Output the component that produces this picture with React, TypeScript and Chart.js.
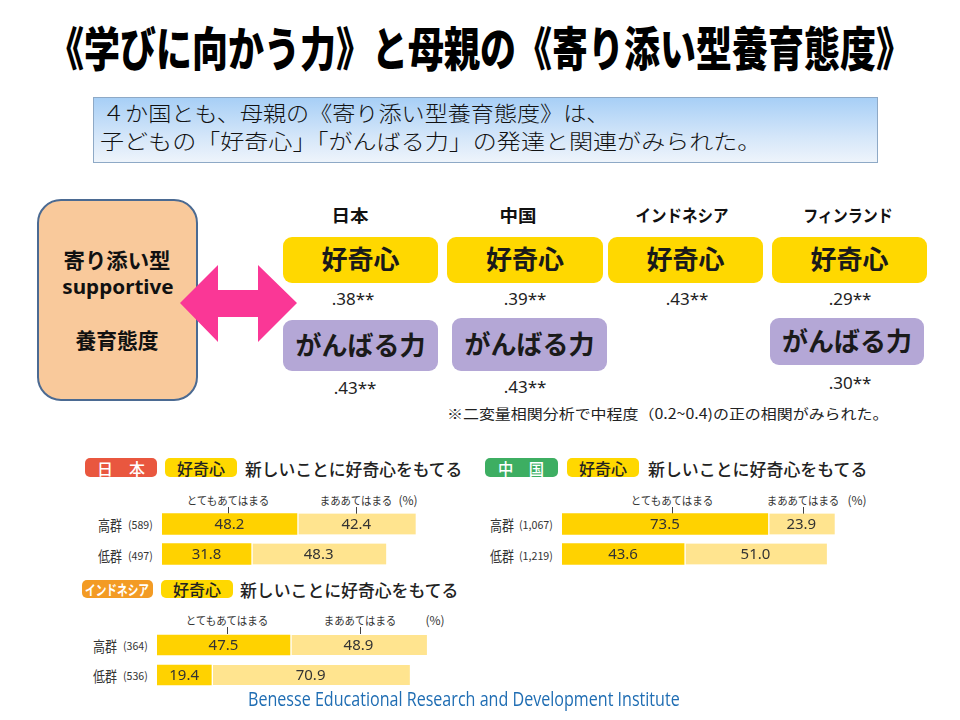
import React, { useEffect, useLayoutEffect, useRef } from "react";
import { Chart, registerables } from "chart.js";

Chart.register(...registerables);

// ---------- data ----------
const titleText = "《学びに向かう力》と母親の《寄り添い型養育態度》";
const summaryLines = [
  "４か国とも、母親の《寄り添い型養育態度》は、",
  "子どもの「好奇心」「がんばる力」の発達と関連がみられた。",
];
const countries = ["日本", "中国", "インドネシア", "フィンランド"];
const curiosityR = [".38**", ".39**", ".43**", ".29**"];
const perseveranceR = [".43**", ".43**", "", ".30**"];
const noteText = "※二変量相関分析で中程度（0.2~0.4)の正の相関がみられた。";

const groupLabels = ["高群", "低群"];
const seriesLabels = ["とてもあてはまる", "まああてはまる"];
const panelTitle = "新しいことに好奇心をもてる";

const jpN = ["(589)", "(497)"];
const jpVery = [48.2, 31.8];
const jpSomewhat = [42.4, 48.3];

const cnN = ["(1,067)", "(1,219)"];
const cnVery = [73.5, 43.6];
const cnSomewhat = [23.9, 51.0];

const idN = ["(364)", "(536)"];
const idVery = [47.5, 19.4];
const idSomewhat = [48.9, 70.9];

const footerText = "Benesse Educational Research and Development Institute";

// ---------- styles ----------
const JP = '"Noto Sans CJK JP", "Noto Sans", sans-serif';
const YELLOW = "#ffd800";
const PURPLE = "#b4a7d6";
const BAR_DARK = "#ffd200";
const BAR_LIGHT = "#ffe48f";

type TProps = {
  x?: number;
  cx?: number;
  cy: number;
  w?: number;
  sy?: number;
  size: number;
  weight?: number;
  color?: string;
  family?: string;
  ls?: number;
  children: React.ReactNode;
};

function T({ x, cx, cy, w, sy = 1, size, weight = 400, color = "#111", family = JP, ls = 0, children }: TProps) {
  const ref = useRef<HTMLDivElement | null>(null);
  const centered = cx !== undefined;
  useLayoutEffect(() => {
    const el = ref.current;
    if (!el) return;
    const apply = () => {
      const nat = el.scrollWidth || 1;
      const sx = w ? w / nat : 1;
      el.style.transform = (centered ? "translate(-50%,-50%) " : "translate(0,-50%) ") + `scale(${sx},${sy})`;
    };
    apply();
    (document as any).fonts?.ready?.then(apply);
  }, []);
  return (
    <div
      ref={ref}
      style={{
        position: "absolute",
        left: centered ? cx : x,
        top: cy,
        whiteSpace: "nowrap",
        fontSize: size,
        fontWeight: weight,
        color,
        fontFamily: family,
        lineHeight: 1,
        letterSpacing: ls,
        transformOrigin: centered ? "center center" : "left center",
      }}
    >
      {children}
    </div>
  );
}

const valueLabels = {
  id: "valueLabels",
  afterDatasetsDraw(chart: any) {
    const ctx = chart.ctx;
    ctx.save();
    ctx.font = '15px "Noto Sans", sans-serif';
    ctx.fillStyle = "#333";
    ctx.textAlign = "center";
    ctx.textBaseline = "middle";
    chart.data.datasets.forEach((ds: any, i: number) => {
      const meta = chart.getDatasetMeta(i);
      meta.data.forEach((bar: any, j: number) => {
        const p = bar.getProps(["x", "y", "base"], true);
        ctx.fillText(Number(ds.data[j]).toFixed(1), (p.x + p.base) / 2, p.y + 1);
      });
    });
    ctx.restore();
  },
};

function Bars({ left, top, very, somewhat, thickness }: { left: number; top: number; very: number[]; somewhat: number[]; thickness: number }) {
  const ref = useRef<HTMLCanvasElement | null>(null);
  useEffect(() => {
    if (!ref.current) return;
    const chart = new Chart(ref.current, {
      type: "bar",
      data: {
        labels: groupLabels,
        datasets: [
          { label: seriesLabels[0], data: very, backgroundColor: BAR_DARK, borderWidth: 0, barThickness: thickness },
          {
            label: seriesLabels[1],
            data: somewhat,
            backgroundColor: BAR_LIGHT,
            borderColor: "#ffffff",
            borderWidth: { left: 2, right: 0, top: 0, bottom: 0 },
            borderSkipped: false,
            barThickness: thickness,
          },
        ],
      },
      options: {
        indexAxis: "y",
        responsive: false,
        maintainAspectRatio: false,
        animation: false,
        events: [],
        layout: { padding: 0 },
        plugins: { legend: { display: false }, tooltip: { enabled: false } },
        scales: {
          x: { stacked: true, min: 0, max: 100, display: false },
          y: { stacked: true, display: false },
        },
      } as any,
      plugins: [valueLabels],
    });
    return () => chart.destroy();
  }, []);
  return <canvas ref={ref} width={280} height={60} style={{ position: "absolute", left, top, width: 280, height: 60 }} />;
}

function Pill({ x, y, w, h, bg }: { x: number; y: number; w: number; h: number; bg: string }) {
  return (
    <div
      style={{
        position: "absolute",
        left: x,
        top: y,
        width: w,
        height: h,
        background: bg,
        borderRadius: 5,
      }}
    />
  );
}

function Box({ x, y, w, h, bg, text, tw }: { x: number; y: number; w: number; h: number; bg: string; text: string; tw: number }) {
  return (
    <>
      <div style={{ position: "absolute", left: x, top: y, width: w, height: h, background: bg, borderRadius: 9 }} />
      <T cx={x + w / 2} cy={y + h / 2 - 2} w={tw} size={26} weight={700} color="#1a1a1a">
        {text}
      </T>
    </>
  );
}

type PanelProps = {
  pillX: number; pillY: number; pillW: number; pillColor: string; pillText: React.ReactNode;
  yelX: number; titleX: number; titleW: number;
  hdrY: number; hdr1: number; hdr2: number; pct: number; tickTop: number;
  rowX: number; nX: number; nW: number; rowY: number[]; counts: string[];
  barX: number; barTop: number; very: number[]; somewhat: number[]; thickness: number;
};

function Panel(p: PanelProps) {
  const pillH = p.pillY === 580 ? 18 : 19;
  return (
    <>
      <Pill x={p.pillX} y={p.pillY} w={p.pillW} h={pillH} bg={p.pillColor} />
      {p.pillText}
      <Pill x={p.yelX} y={p.pillY} w={72} h={pillH} bg={YELLOW} />
      <T cx={p.yelX + 36} cy={p.pillY + pillH / 2} w={48} size={16} weight={500} color="#222">好奇心</T>
      <T x={p.titleX} cy={p.pillY + pillH / 2} w={p.titleW} size={17} weight={500} color="#222">{panelTitle}</T>

      <T cx={p.hdr1} cy={p.hdrY} w={83} size={11} color="#333">{seriesLabels[0]}</T>
      <T cx={p.hdr2} cy={p.hdrY} w={73} size={11} color="#333">{seriesLabels[1]}</T>
      <T cx={p.pct} cy={p.hdrY} w={19} size={12} color="#333">(%)</T>
      <div style={{ position: "absolute", left: p.hdr1, top: p.tickTop, width: 1, height: 7, background: "#444" }} />
      <div style={{ position: "absolute", left: p.hdr2, top: p.tickTop, width: 1, height: 7, background: "#444" }} />

      {groupLabels.map((g, i) => (
        <React.Fragment key={g}>
          <T x={p.rowX} cy={p.rowY[i]} w={24} size={15} color="#333">{g}</T>
          <T x={p.nX} cy={p.rowY[i]} w={p.nW} size={11} color="#333">{p.counts[i]}</T>
        </React.Fragment>
      ))}
      <Bars left={p.barX} top={p.barTop} very={p.very} somewhat={p.somewhat} thickness={p.thickness} />
    </>
  );
}

export default function App() {
  useEffect(() => {
    document.body.style.margin = "0";
  }, []);

  const yBoxes = [
    { x: 283, w: 155 },
    { x: 447, w: 156 },
    { x: 608, w: 155 },
    { x: 772, w: 155 },
  ];
  const countryCx = [350, 518, 682, 848];
  const countryW = [37, 37, 93, 90];
  const rCx = [353, 525, 687, 850];
  const pBoxes = [
    { x: 283, y: 320, w: 155, h: 51 },
    { x: 452, y: 318, w: 155, h: 53 },
    null,
    { x: 770, y: 318, w: 154, h: 47 },
  ];
  const pValY = [387, 386, 0, 382];

  return (
    <div style={{ position: "absolute", left: 0, top: 0, width: 960, height: 720, background: "#fff", overflow: "hidden" }}>
      {/* Title */}
      <T cx={480} cy={45} w={864} sy={1.3} size={36} weight={900} color="#000">{titleText}</T>

      {/* Summary box */}
      <div
        style={{
          position: "absolute",
          left: 93,
          top: 97,
          width: 783,
          height: 64,
          border: "1px solid #8ea9c6",
          background: "linear-gradient(to bottom, #a7cff6 0%, #d4e6f9 60%, #eef4fb 100%)",
        }}
      />
      <T x={102} cy={112} w={507} size={21} weight={300} color="#111">{summaryLines[0]}</T>
      <T x={100} cy={140} w={662} size={21} weight={300} color="#111">{summaryLines[1]}</T>

      {/* Left box */}
      <div
        style={{
          position: "absolute",
          left: 37,
          top: 199,
          width: 157,
          height: 198,
          background: "#f9c99b",
          border: "2px solid #4b6a92",
          borderRadius: 24,
        }}
      />
      <T cx={117} cy={259} w={107} size={21} weight={700} color="#111">寄り添い型</T>
      <T cx={118} cy={287} w={111} size={19} weight={700} color="#111" family='"Noto Sans", sans-serif'>supportive</T>
      <T cx={117} cy={339} w={83} size={21} weight={700} color="#111">養育態度</T>

      {/* Double arrow */}
      <svg width={960} height={720} style={{ position: "absolute", left: 0, top: 0 }}>
        <polygon
          points="180,303 218,265 218,290 258,290 258,265 297,303 258,342 258,317 218,317 218,342"
          fill="#fa3796"
        />
      </svg>

      {/* Countries */}
      {countries.map((c, i) => (
        <T key={c} cx={countryCx[i]} cy={214} w={countryW[i]} size={17} weight={700} color="#111">{c}</T>
      ))}
      {yBoxes.map((b, i) => (
        <React.Fragment key={"y" + i}>
          <Box x={b.x} y={237} w={b.w} h={46} bg={YELLOW} text="好奇心" tw={78} />
          <T cx={rCx[i]} cy={298} size={17} color="#222" family='"Noto Sans", sans-serif'>{curiosityR[i]}</T>
        </React.Fragment>
      ))}
      {pBoxes.map((b, i) =>
        b ? (
          <React.Fragment key={"p" + i}>
            <Box x={b.x} y={b.y} w={b.w} h={b.h} bg={PURPLE} text="がんばる力" tw={130} />
            <T cx={rCx[i] + (i === 0 ? 2 : 0)} cy={pValY[i]} size={17} color="#222" family='"Noto Sans", sans-serif'>{perseveranceR[i]}</T>
          </React.Fragment>
        ) : null
      )}
      <T x={447} cy={413} w={441} size={14} color="#222">{noteText}</T>

      {/* Japan panel */}
      <Panel
        pillX={85} pillY={458} pillW={72} pillColor="#e9573f"
        pillText={<T cx={121} cy={468} w={48} size={16} weight={500} color="#fff">日　本</T>}
        yelX={165} titleX={245} titleW={217}
        hdrY={500} hdr1={228} hdr2={356} pct={408} tickTop={507}
        rowX={98} nX={128} nW={25} rowY={[524, 555]} counts={jpN}
        barX={162} barTop={509} very={jpVery} somewhat={jpSomewhat} thickness={21}
      />

      {/* China panel */}
      <Panel
        pillX={485} pillY={458} pillW={73} pillColor="#3dae62"
        pillText={<T cx={521} cy={468} w={46} size={16} weight={500} color="#fff">中　国</T>}
        yelX={567} titleX={648} titleW={219}
        hdrY={500} hdr1={672} hdr2={803} pct={857} tickTop={507}
        rowX={490} nX={519} nW={34} rowY={[524, 555]} counts={cnN}
        barX={562} barTop={509} very={cnVery} somewhat={cnSomewhat} thickness={21}
      />

      {/* Indonesia panel */}
      <Panel
        pillX={82} pillY={580} pillW={71} pillColor="#f39b24"
        pillText={<T cx={117} cy={589} w={64} size={14} weight={700} color="#fff">インドネシア</T>}
        yelX={161} titleX={240} titleW={218}
        hdrY={620} hdr1={227} hdr2={360} pct={435} tickTop={627}
        rowX={93} nX={123} nW={25} rowY={[645, 675]} counts={idN}
        barX={157} barTop={630} very={idVery} somewhat={idSomewhat} thickness={20}
      />

      {/* Footer */}
      <T x={248} cy={699} w={432} size={20} color="#1f6db3" family='"Open Sans", sans-serif'>{footerText}</T>
    </div>
  );
}
